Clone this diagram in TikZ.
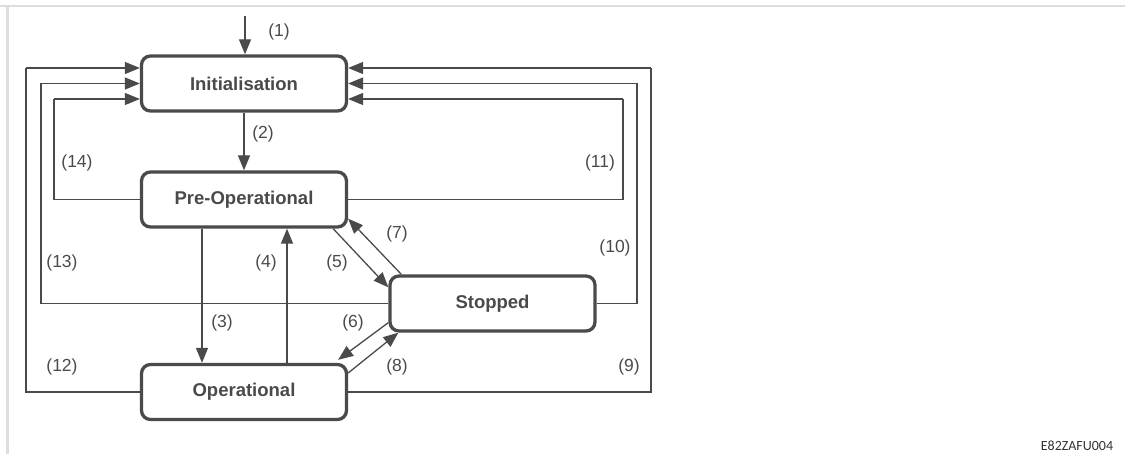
\documentclass[tikz,border=0pt]{standalone}
\usepackage{fontspec}
\setmainfont{Liberation Sans}
\newfontfamily\codefont{Carlito}
\usetikzlibrary{arrows.meta,calc}
\definecolor{linegray}{HTML}{4A4A4A}
\definecolor{framegray}{HTML}{DDDDDD}
\begin{document}
\begin{tikzpicture}[x=1pt, y=-1pt,
  state/.style={draw=linegray, line width=3.3pt, rounded corners=9pt, fill=white,
    minimum width=205pt, minimum height=55pt, text=linegray,
    font=\fontsize{18.5}{21}\selectfont\bfseries},
  flow/.style={draw=linegray, line width=1.3pt, -{Triangle[length=15pt,width=12pt]}},
  feed/.style={draw=linegray, line width=1.3pt},
  num/.style={text=linegray, font=\fontsize{17.5}{20}\selectfont, inner sep=0pt}]
  \useasboundingbox (0,0) rectangle (1125,454);

  % frame
  \draw[framegray, line width=2.7pt] (0,6) -- (1125,6);
  \draw[framegray, line width=3pt] (7.3,6) -- (7.3,454);

  % states
  \node[state] (init)    at (244,83.5)    {Initialisation};
  \node[state] (preop)   at (244,199.5)   {Pre-Operational};
  \node[state] (stopped) at (492.5,303.5) {Stopped};
  \node[state] (op)      at (244,392)     {Operational};

  % power on
  \coordinate (entry) at (245,16);
  \draw[flow] (entry) -- (entry |- init.north);
  \node[num] (l1) at (279,32) {(1)};

  % transitions between the states
  \draw[flow] (init.south) -- (preop.north);
  \node[num] (l2) at (263,134) {(2)};
  \draw[flow] ($(preop.south)+(-42,0)$) -- ($(op.north)+(-42,0)$);
  \node[num] (l3) at (222,323) {(3)};
  \draw[flow] ($(op.north)+(43,0)$) -- ($(preop.south)+(43,0)$);
  \node[num] (l4) at (266,263) {(4)};
  \draw[flow] ($(preop.south east)+(-15,0)$) -- ($(stopped.north west)+(0,13)$);
  \node[num] (l5) at (337,263) {(5)};
  \draw[flow] ($(stopped.south west)+(0,-10)$) -- ($(op.north east)+(-10,-3)$);
  \node[num] (l6) at (353,323) {(6)};
  \draw[flow] ($(stopped.north west)+(13,0)$) -- ($(preop.south east)+(0,-10)$);
  \node[num] (l7) at (397,234) {(7)};
  \draw[flow] ($(op.east)+(0,-19)$) -- ($(stopped.south west)+(10,0)$);
  \node[num] (l8) at (397,367) {(8)};

  % back to Initialisation, right side
  \draw[feed] (op.east) -| (651,68);
  \draw[flow] (651,68) -- ($(init.east)+(0,-15.5)$);
  \node[num] (l9) at (629,367) {(9)};
  \draw[feed] (stopped.east) -| (637,83.5);
  \draw[flow] (637,83.5) -- (init.east);
  \node[num] (l10) at (615,248) {(10)};
  \draw[feed] (preop.east) -| (623,99);
  \draw[flow] (623,99) -- ($(init.east)+(0,15.5)$);
  \node[num] (l11) at (600,163) {(11)};

  % back to Initialisation, left side
  \draw[feed] (op.west) -| (26,68);
  \draw[flow] (26,68) -- ($(init.west)+(0,-15.5)$);
  \node[num] (l12) at (62,367) {(12)};
  \draw[feed] (stopped.west) -| (41,83.5);
  \draw[flow] (41,83.5) -- (init.west);
  \node[num] (l13) at (62,263) {(13)};
  \draw[feed] (preop.west) -| (54,99);
  \draw[flow] (54,99) -- ($(init.west)+(0,15.5)$);
  \node[num] (l14) at (77,163) {(14)};

  % drawing number
  \node[text=black!80, font=\codefont\fontsize{14}{16}\selectfont, inner sep=0pt] (code) at (1077,446) {E82ZAFU004};
\end{tikzpicture}
\end{document}
